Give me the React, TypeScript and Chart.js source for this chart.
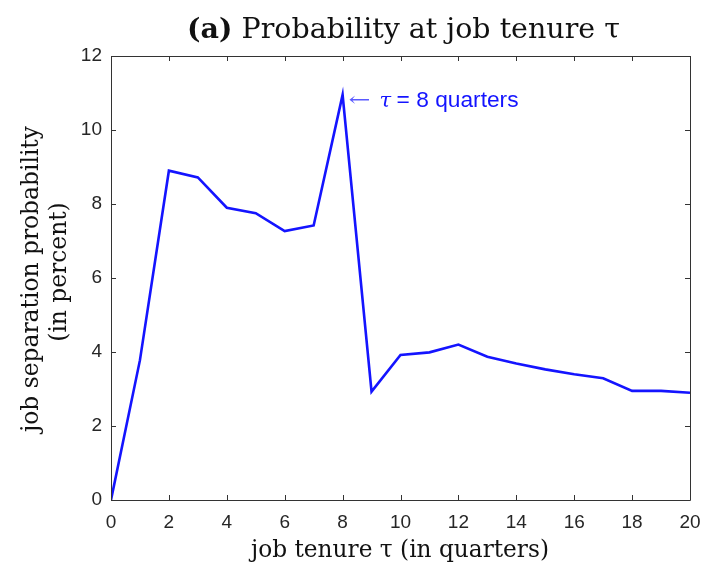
import React, { useEffect, useRef } from "react";
import { Chart, registerables } from "chart.js";

Chart.register(...registerables);

const tenure = [0, 1, 2, 3, 4, 5, 6, 7, 8, 9, 10, 11, 12, 13, 14, 15, 16, 17, 18, 19, 20];
const separationProb = [0, 3.78, 8.9, 8.72, 7.9, 7.75, 7.27, 7.42, 10.95, 2.93, 3.92, 3.99, 4.2, 3.87, 3.69, 3.53, 3.4, 3.29, 2.95, 2.95, 2.9];
const xTicks = [0, 2, 4, 6, 8, 10, 12, 14, 16, 18, 20];
const yTicks = [0, 2, 4, 6, 8, 10, 12];
const titleBold = "(a)";
const titleRest = " Probability at job tenure τ";
const yTitle = ["job separation probability", "(in percent)"];
const xTitle = "job tenure τ (in quarters)";
const annotationArrow = "←";
const annotationSymbol = "τ";
const annotationText = "= 8 quarters";
const annotationAt = { x: 8, y: 10.95 };

const SERIF = "'DejaVu Serif', 'Liberation Serif', serif";
const SANS = "'Liberation Sans', Arial, sans-serif";
const BLUE = "#1414ff";

function fitText(ctx: any, text: string, font: (s: number) => string, size: number, width: number) {
  ctx.font = font(size);
  const w = ctx.measureText(text).width;
  return (size * width) / w;
}

const decorPlugin = {
  id: "decor",
  afterDraw(chart: any) {
    const ctx = chart.ctx;
    const { left, right, top, bottom } = chart.chartArea;
    const xs = chart.scales.x;
    const ys = chart.scales.y;
    ctx.save();
    // box
    ctx.strokeStyle = "#333";
    ctx.lineWidth = 1;
    ctx.beginPath();
    ctx.rect(Math.round(left) + 0.5, Math.round(top) + 0.5, Math.round(right - left), Math.round(bottom - top));
    ctx.stroke();
    // inward ticks
    const tl = 5;
    ctx.beginPath();
    xTicks.forEach((v) => {
      const px = Math.round(xs.getPixelForValue(v)) + 0.5;
      ctx.moveTo(px, bottom);
      ctx.lineTo(px, bottom - tl);
      ctx.moveTo(px, top);
      ctx.lineTo(px, top + tl);
    });
    yTicks.forEach((v) => {
      const py = Math.round(ys.getPixelForValue(v)) + 0.5;
      ctx.moveTo(left, py);
      ctx.lineTo(left + tl, py);
      ctx.moveTo(right, py);
      ctx.lineTo(right - tl, py);
    });
    ctx.stroke();

    // title
    ctx.fillStyle = "#111";
    ctx.textBaseline = "alphabetic";
    const tsize = 27;
    ctx.font = `bold ${tsize}px ${SERIF}`;
    const wb = ctx.measureText(titleBold).width;
    ctx.font = `${tsize}px ${SERIF}`;
    const wr = ctx.measureText(titleRest).width;
    const sx = 187;
    const scaleX = 433 / (wb + wr);
    ctx.save();
    ctx.translate(sx, 38);
    ctx.scale(scaleX, 1);
    ctx.textAlign = "left";
    ctx.font = `bold ${tsize}px ${SERIF}`;
    ctx.fillText(titleBold, 0, 0);
    ctx.font = `${tsize}px ${SERIF}`;
    ctx.fillText(titleRest, wb, 0);
    ctx.restore();

    // x title
    const xsize = fitText(ctx, xTitle, (s) => `${s}px ${SERIF}`, 22, 298);
    ctx.font = `${xsize}px ${SERIF}`;
    ctx.textAlign = "center";
    ctx.fillText(xTitle, 400, 557);

    // y title
    const ysize = fitText(ctx, yTitle[0], (s) => `${s}px ${SERIF}`, 22, 306);
    ctx.save();
    ctx.translate(0, 279);
    ctx.rotate(-Math.PI / 2);
    ctx.textAlign = "center";
    ctx.font = `${ysize}px ${SERIF}`;
    ctx.fillText(yTitle[0], 0, 38);
    ctx.fillText(yTitle[1], 7, 66);
    ctx.restore();

    // annotation
    ctx.textAlign = "left";
    const ax = xs.getPixelForValue(annotationAt.x);
    const ay = ys.getPixelForValue(annotationAt.y);
    const by = ay + 12;
    ctx.font = `20px ${SERIF}`;
    ctx.fillStyle = "#5a5aff";
    const aw = ctx.measureText(annotationArrow).width;
    ctx.save();
    ctx.translate(ax + 6, by - 1);
    ctx.scale(22 / aw, 1);
    ctx.fillText(annotationArrow, 0, 0);
    ctx.restore();
    ctx.fillStyle = BLUE;
    ctx.font = `italic 21px ${SERIF}`;
    ctx.fillText(annotationSymbol, ax + 37, by);
    const asize = fitText(ctx, annotationText, (s) => `${s}px ${SANS}`, 20, 122);
    ctx.font = `${asize}px ${SANS}`;
    ctx.fillText(annotationText, ax + 54, by);
    ctx.restore();
  },
};

export default function App() {
  const ref = useRef<HTMLCanvasElement>(null);
  useEffect(() => {
    document.body.style.margin = "0";
    const canvas = ref.current!;
    const chart = new Chart(canvas, {
      type: "line",
      data: {
        datasets: [
          {
            data: tenure.map((t, i) => ({ x: t, y: separationProb[i] })),
            borderColor: BLUE,
            borderWidth: 2.6,
            pointRadius: 0,
            tension: 0,
            fill: false,
          },
        ],
      },
      options: {
        animation: false,
        responsive: false,
        maintainAspectRatio: false,
        devicePixelRatio: 1,
        layout: { padding: { left: 0, right: 12, top: 56, bottom: 0 } },
        plugins: { legend: { display: false }, tooltip: { enabled: false }, title: { display: false } },
        scales: {
          x: {
            type: "linear",
            min: 0,
            max: 20,
            afterFit: (s: any) => {
              s.height = 63;
              s.paddingLeft = 0;
              s.paddingRight = 0;
            },
            afterBuildTicks: (s: any) => {
              s.ticks = xTicks.map((v) => ({ value: v }));
            },
            grid: { display: false, drawTicks: false },
            border: { display: false },
            ticks: {
              padding: 11,
              color: "#262626",
              font: { family: SANS, size: 19 },
              maxRotation: 0,
              autoSkip: false,
            },
          },
          y: {
            type: "linear",
            min: 0,
            max: 12,
            afterFit: (s: any) => {
              s.width = 111;
              s.paddingTop = 0;
              s.paddingBottom = 0;
            },
            afterBuildTicks: (s: any) => {
              s.ticks = yTicks.map((v) => ({ value: v }));
            },
            grid: { display: false, drawTicks: false },
            border: { display: false },
            ticks: {
              padding: 9,
              color: "#262626",
              font: { family: SANS, size: 19 },
              autoSkip: false,
            },
          },
        },
      },
      plugins: [decorPlugin],
    });
    return () => chart.destroy();
  }, []);
  return <canvas ref={ref} width={702} height={563} style={{ display: "block" }} />;
}
